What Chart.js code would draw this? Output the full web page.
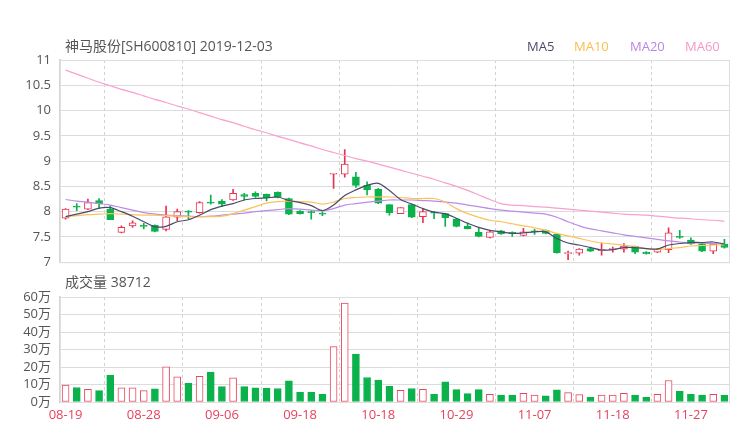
<!DOCTYPE html>
<html>
<head>
<meta charset="utf-8">
<script src="https://cdn.jsdelivr.net/npm/chart.js@4.4.0/dist/chart.umd.min.js"></script>
<style>
body { margin: 0; background: #fff; }
#wrap { position: relative; width: 740px; height: 440px; font-family: "Open Sans", "Noto Sans CJK SC", sans-serif; }
#priceChart { position: absolute; left: 0; top: 0; }
#volChart { position: absolute; left: 0; top: 270px; }
.txt { position: absolute; color: #555; font-size: 14px; white-space: nowrap; line-height: 18px; }
.lg { position: absolute; top: 37px; font-size: 13px; line-height: 18px; white-space: nowrap; }
</style>
</head>
<body>
<div id="wrap">
  <canvas id="priceChart" width="740" height="279"></canvas>
  <canvas id="volChart" width="740" height="170"></canvas>
  <div class="txt" style="left:65px;top:37px;">神马股份[SH600810] 2019-12-03</div>
  <div class="lg" style="left:527px;color:#4b4a6b;">MA5</div>
  <div class="lg" style="left:574px;color:#fbbd4c;">MA10</div>
  <div class="lg" style="left:630px;color:#b987e4;">MA20</div>
  <div class="lg" style="left:685px;color:#f797c8;">MA60</div>
  <div class="txt" style="left:65px;top:273px;">成交量 38712</div>
</div>
<script>
// trading days shown (MM-DD), stock suspended between 09-20 and 10-14
const dates = ['08-19','08-20','08-21','08-22','08-23','08-26','08-27','08-28','08-29','08-30',
  '09-02','09-03','09-04','09-05','09-06','09-09','09-10','09-11','09-12','09-16',
  '09-17','09-18','09-19','09-20','10-14','10-15','10-16','10-17','10-18','10-21',
  '10-22','10-23','10-24','10-25','10-28','10-29','10-30','10-31','11-01','11-04',
  '11-05','11-06','11-07','11-08','11-11','11-12','11-13','11-14','11-15','11-18',
  '11-19','11-20','11-21','11-22','11-25','11-26','11-27','11-28','11-29','12-03'];

const openP = [7.87,8.11,8.05,8.22,8.05,7.59,7.72,7.71,7.73,7.65,
  7.89,8.00,7.98,8.18,8.21,8.23,8.34,8.36,8.35,8.38,
  8.26,8.01,8.00,7.96,8.74,8.74,8.69,8.52,8.44,8.14,
  7.96,8.14,7.90,7.98,7.96,7.86,7.71,7.59,7.49,7.62,
  7.58,7.53,7.60,7.63,7.55,7.17,7.18,7.27,7.23,7.25,
  7.26,7.32,7.20,7.20,7.25,7.50,7.44,7.37,7.22,7.36];
const highP = [8.06,8.16,8.25,8.26,8.12,7.72,7.82,7.77,7.74,8.11,
  8.05,8.02,8.20,8.33,8.24,8.44,8.36,8.39,8.35,8.39,
  8.27,8.02,8.02,7.99,8.76,9.23,8.78,8.59,8.46,8.14,
  8.08,8.15,8.06,8.00,7.96,7.87,7.78,7.68,7.61,7.63,
  7.60,7.67,7.65,7.64,7.55,7.22,7.27,7.30,7.38,7.30,
  7.37,7.32,7.21,7.27,7.68,7.63,7.48,7.38,7.37,7.45];
const lowP = [7.85,8.02,8.04,8.06,7.84,7.58,7.69,7.66,7.60,7.62,
  7.82,7.86,7.97,8.15,8.10,8.22,8.23,8.28,8.21,8.27,
  7.94,7.95,7.85,7.92,8.46,8.68,8.48,8.33,8.16,7.93,
  7.96,7.88,7.78,7.86,7.71,7.70,7.66,7.50,7.48,7.55,
  7.51,7.52,7.55,7.56,7.18,7.05,7.14,7.21,7.14,7.20,
  7.20,7.17,7.16,7.19,7.19,7.47,7.35,7.21,7.17,7.28];
const closeP = [8.05,8.09,8.18,8.16,7.84,7.69,7.78,7.71,7.61,7.90,
  8.00,7.99,8.18,8.17,8.15,8.36,8.30,8.30,8.27,8.28,
  7.95,7.96,7.98,7.95,8.75,8.94,8.52,8.43,8.17,7.98,
  8.08,7.89,8.00,7.97,7.88,7.71,7.66,7.51,7.60,7.56,
  7.57,7.60,7.60,7.57,7.19,7.18,7.26,7.22,7.24,7.26,
  7.32,7.20,7.17,7.26,7.58,7.49,7.36,7.22,7.36,7.29];

// volume in 万
const volume = [9.6,8.3,7.3,6.5,15.2,8.1,8.1,6.5,7.5,20.1,
  14.4,10.6,14.6,17.1,8.8,13.8,8.8,8.1,7.9,7.7,
  12.1,5.6,5.6,4.4,31.6,56.5,27.4,14.0,12.5,9.0,
  6.7,7.7,7.3,4.4,11.5,7.1,4.8,7.1,4.4,3.9,
  4.0,5.0,4.0,3.5,6.9,5.4,4.2,2.7,3.9,3.9,
  5.0,3.9,2.7,4.4,12.3,6.1,4.4,3.9,4.4,3.87];

const ma5 = [7.90,7.95,8.00,8.07,8.08,8.00,7.91,7.80,7.70,7.71,
  7.80,7.84,7.93,8.04,8.11,8.16,8.23,8.26,8.27,8.29,
  8.22,8.18,8.12,8.02,8.13,8.32,8.43,8.52,8.56,8.42,
  8.24,8.15,8.06,7.99,7.96,7.87,7.77,7.69,7.63,7.60,
  7.57,7.58,7.60,7.60,7.47,7.38,7.34,7.29,7.24,7.25,
  7.29,7.29,7.27,7.26,7.34,7.37,7.39,7.39,7.40,7.36];
const ma10 = [7.90,7.92,7.94,7.95,7.96,7.95,7.94,7.93,7.93,7.92,
  7.91,7.90,7.90,7.90,7.91,7.96,8.03,8.10,8.17,8.20,
  8.21,8.20,8.19,8.15,8.19,8.26,8.28,8.29,8.29,8.29,
  8.28,8.26,8.26,8.26,8.19,8.06,7.96,7.89,7.83,7.80,
  7.76,7.72,7.68,7.63,7.57,7.52,7.47,7.42,7.38,7.36,
  7.34,7.31,7.27,7.25,7.27,7.29,7.32,7.33,7.34,7.34];
const ma20 = [8.24,8.21,8.19,8.16,8.13,8.08,8.03,7.98,7.95,7.93,
  7.92,7.91,7.90,7.91,7.93,7.95,7.97,8.00,8.02,8.04,
  8.06,8.05,8.03,8.02,8.06,8.13,8.16,8.19,8.21,8.23,
  8.23,8.23,8.22,8.21,8.19,8.17,8.13,8.10,8.06,8.03,
  8.01,7.99,7.97,7.95,7.89,7.80,7.72,7.66,7.62,7.58,
  7.54,7.51,7.48,7.45,7.42,7.40,7.38,7.38,7.37,7.36];
const ma60 = [10.80,10.72,10.64,10.56,10.49,10.42,10.36,10.29,10.22,10.16,
  10.09,10.03,9.96,9.89,9.82,9.76,9.69,9.62,9.56,9.49,
  9.43,9.36,9.30,9.23,9.17,9.11,9.05,9.00,8.94,8.88,
  8.82,8.76,8.70,8.64,8.57,8.50,8.42,8.33,8.24,8.16,
  8.13,8.12,8.10,8.09,8.07,8.05,8.03,8.01,7.99,7.97,
  7.95,7.94,7.93,7.91,7.89,7.87,7.86,7.84,7.83,7.81];

const priceTicks = { min: 7, max: 11, step: 0.5 };
const volTicks = { min: 0, max: 60, step: 10 };

const RED = '#e63350';
const GREEN = '#0bb24c';
const FONT = '"Open Sans", "Noto Sans CJK SC", sans-serif';

const candleUp = closeP.map((c, i) => c > openP[i]);
const volUp = closeP.map((c, i) => c >= openP[i]);

// light frame around each plot area
const frame = {
  id: 'frame',
  afterDraw(chart) {
    const a = chart.chartArea, ctx = chart.ctx;
    ctx.save();
    ctx.strokeStyle = '#dedede';
    ctx.lineWidth = 1;
    ctx.strokeRect(a.left + 0.5, a.top + 0.5, a.right - a.left - 1, a.bottom - a.top);
    ctx.restore();
  }
};

function xScale(showLabels) {
  return {
    offset: true,
    grid: {
      offset: true,
      drawTicks: false,
      color: ctx => (ctx.index % 7 === 4 ? '#d2d2d2' : 'rgba(0,0,0,0)'),
      lineWidth: 1
    },
    border: { display: false, dash: [3, 3] },
    ticks: {
      display: showLabels,
      autoSkip: false,
      maxRotation: 0,
      padding: 5,
      color: '#e6435e',
      font: { size: 13, family: FONT },
      callback: (v, i) => (i % 7 === 0 ? dates[i] : '')
    },
    afterFit: s => { s.height = showLabels ? 22 : 0; }
  };
}

function yScale(t, fmt) {
  return {
    min: t.min,
    max: t.max,
    grid: { color: '#dcdcdc', drawTicks: false },
    border: { color: '#d6d6d6', width: 2 },
    ticks: {
      stepSize: t.step,
      autoSkip: false,
      padding: 9,
      color: '#555',
      font: { size: 13, family: FONT },
      callback: fmt
    },
    afterFit: s => { s.width = 60; }
  };
}

function maLine(label, data, color) {
  return {
    type: 'line', label, data, borderColor: color, borderWidth: 1.2,
    pointRadius: 0, tension: 0.3, fill: false, order: 0
  };
}

function initCharts() {
  new Chart(document.getElementById('priceChart'), {
    type: 'bar',
    data: {
      labels: dates,
      datasets: [
        maLine('MA5', ma5, '#4b4a6b'),
        maLine('MA10', ma10, '#fbc25a'),
        maLine('MA20', ma20, '#bb8ce6'),
        maLine('MA60', ma60, '#f9a0cc'),
        {
          label: 'body',
          data: openP.map((o, i) => [o, closeP[i]]),
          backgroundColor: candleUp.map(u => (u ? '#ffffff' : GREEN)),
          borderColor: candleUp.map(u => (u ? RED : GREEN)),
          borderWidth: 1,
          borderSkipped: false,
          barThickness: 7,
          minBarLength: 1,
          grouped: false,
          order: 1
        },
        {
          label: 'wick',
          data: lowP.map((l, i) => [l, highP[i]]),
          backgroundColor: candleUp.map(u => (u ? RED : GREEN)),
          borderWidth: 0,
          barThickness: 1,
          grouped: false,
          order: 2
        }
      ]
    },
    options: {
      responsive: false,
      animation: false,
      layout: { padding: { top: 60, right: 10, bottom: 0, left: 0 } },
      plugins: { legend: { display: false }, tooltip: { enabled: false } },
      scales: {
        x: xScale(false),
        y: yScale(priceTicks, v => v)
      }
    },
    plugins: [frame]
  });

  new Chart(document.getElementById('volChart'), {
    type: 'bar',
    data: {
      labels: dates,
      datasets: [{
        label: '成交量',
        data: volume,
        backgroundColor: volUp.map(u => (u ? '#ffffff' : GREEN)),
        borderColor: volUp.map(u => (u ? '#e8465f' : GREEN)),
        borderWidth: 1,
        borderSkipped: false,
        barThickness: 7
      }]
    },
    options: {
      responsive: false,
      animation: false,
      layout: { padding: { top: 27, right: 10, bottom: 16, left: 0 } },
      plugins: { legend: { display: false }, tooltip: { enabled: false } },
      scales: {
        x: xScale(true),
        y: yScale(volTicks, v => v + '万')
      }
    },
    plugins: [frame]
  });
}

document.addEventListener('DOMContentLoaded', initCharts);
</script>
</body>
</html>
